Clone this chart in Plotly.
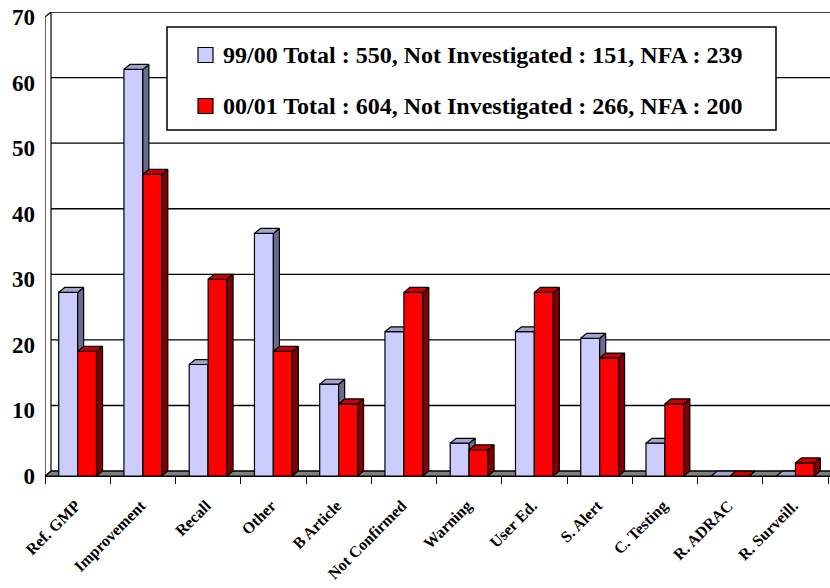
import plotly.graph_objects as go

# Complaint outcome categories and counts per financial year
categories = ["Ref. GMP", "Improvement", "Recall", "Other", "B Article",
              "Not Confirmed", "Warning", "User Ed.", "S. Alert", "C. Testing",
              "R. ADRAC", "R. Surveill."]
counts_9900 = [28, 62, 17, 37, 14, 22, 5, 22, 21, 5, 0, 0]
counts_0001 = [19, 46, 30, 19, 11, 28, 4, 28, 18, 11, 0, 2]
series_labels = [
    "99/00 Total : 550, Not Investigated : 151, NFA : 239",
    "00/01 Total : 604, Not Investigated : 266, NFA : 200",
]
y_ticks = [0, 10, 20, 30, 40, 50, 60, 70]

FONT = "Times New Roman, Liberation Serif, serif"
W, H = 830, 588
ML, MR, MT, MB = 45, 0, 12, 112
X_MAX = 12.03
Y_TOP = 70
DX = 0.092        # depth offset of the pseudo-3D look, x units
DY = 0.75         # depth offset, y units
BAR_W = 0.29

blue = dict(front="#CCCCFF", side="#6B6B8F", top="#A3A3CC")
red = dict(front="#FF0000", side="#800000", top="#CC0000")


def faces(vals, left):
    fx, fy, sx, sy, tx, ty = [], [], [], [], [], []
    for i, v in enumerate(vals):
        x0 = i + 0.5 + left
        x1 = x0 + BAR_W
        fx += [x0, x1, x1, x0, x0, None]
        fy += [0, 0, v, v, 0, None]
        sx += [x1, x1 + DX, x1 + DX, x1, x1, None]
        sy += [0, DY, v + DY, v, 0, None]
        tx += [x0, x1, x1 + DX, x0 + DX, x0, None]
        ty += [v, v, v + DY, v + DY, v, None]
    return (fx, fy), (sx, sy), (tx, ty)


fig = go.Figure()


def add_series(vals, left, colors, name):
    front, side, top = faces(vals, left)
    for (xs, ys), key in ((front, "front"), (side, "side"), (top, "top")):
        fig.add_trace(go.Scatter(
            x=xs, y=ys, mode="lines", fill="toself",
            fillcolor=colors[key], line=dict(color="black", width=1.2),
            name=name, showlegend=False, hoverinfo="skip"))


add_series(counts_9900, -BAR_W, blue, series_labels[0])
add_series(counts_0001, 0.0, red, series_labels[1])

shapes = []
# back-wall gridlines
for v in y_ticks:
    shapes.append(dict(type="line", xref="x", yref="y", layer="below",
                       x0=DX, x1=X_MAX + 1, y0=v + DY, y1=v + DY,
                       line=dict(color="black", width=1.3)))
# floor
shapes.append(dict(type="path", xref="x", yref="y", layer="below",
                   path=f"M 0,0 L {X_MAX + 1},0 L {X_MAX + 1},{DY} L {DX},{DY} Z",
                   fillcolor="#808080", line=dict(color="black", width=1.2)))
# left wall
shapes.append(dict(type="path", xref="x", yref="y", layer="below",
                   path=f"M 0,0 L 0,{Y_TOP} L {DX},{Y_TOP + DY} L {DX},{DY} Z",
                   fillcolor="white", line=dict(color="black", width=1.2)))


def px_x(p):
    return (p - ML) / (W - ML - MR)


def px_y(p):
    return (H - MB - p) / (H - MT - MB)


# legend box
shapes.append(dict(type="rect", xref="paper", yref="paper", layer="above",
                   x0=px_x(167), x1=px_x(776), y0=px_y(130), y1=px_y(27),
                   fillcolor="white", line=dict(color="black", width=1.5)))
annotations = []
for row, (label, colors) in enumerate(zip(series_labels, (blue, red))):
    cy = 55 + row * 51
    shapes.append(dict(type="rect", xref="paper", yref="paper", layer="above",
                       x0=px_x(198), x1=px_x(213), y0=px_y(cy + 7.5), y1=px_y(cy - 7.5),
                       fillcolor=colors["front"], line=dict(color="black", width=1.2)))
    annotations.append(dict(xref="paper", yref="paper", x=px_x(221), y=px_y(cy),
                            xanchor="left", yanchor="middle", showarrow=False,
                            text=label,
                            font=dict(family=FONT, size=24, color="black", weight="bold")))

fig.update_layout(
    width=W, height=H,
    margin=dict(l=ML, r=MR, t=MT, b=MB),
    paper_bgcolor="white", plot_bgcolor="white",
    font=dict(family=FONT, color="black"),
    shapes=shapes, annotations=annotations,
    showlegend=False,
    xaxis=dict(
        range=[0, X_MAX], tickmode="array",
        tickvals=[i + 0.47 for i in range(len(categories))], ticktext=categories,
        tickangle=-45, ticks="", showgrid=False, zeroline=False,
        showline=True, linecolor="black", linewidth=1.2,
        minor=dict(tickmode="array", tickvals=list(range(len(categories) + 1)),
                   ticks="outside", ticklen=7, tickwidth=1.2, tickcolor="black"),
        tickfont=dict(family=FONT, size=16, color="black", weight="bold"),
        ticklabelstandoff=13, fixedrange=True, automargin=False,
    ),
    yaxis=dict(
        range=[0, Y_TOP + DY], tickmode="array", tickvals=y_ticks,
        ticks="", showgrid=False, zeroline=False, showline=False,
        tickfont=dict(family=FONT, size=23, color="black", weight="bold"),
        ticklabelstandoff=9, fixedrange=True, automargin=False,
    ),
)

fig.write_html("out.html")
